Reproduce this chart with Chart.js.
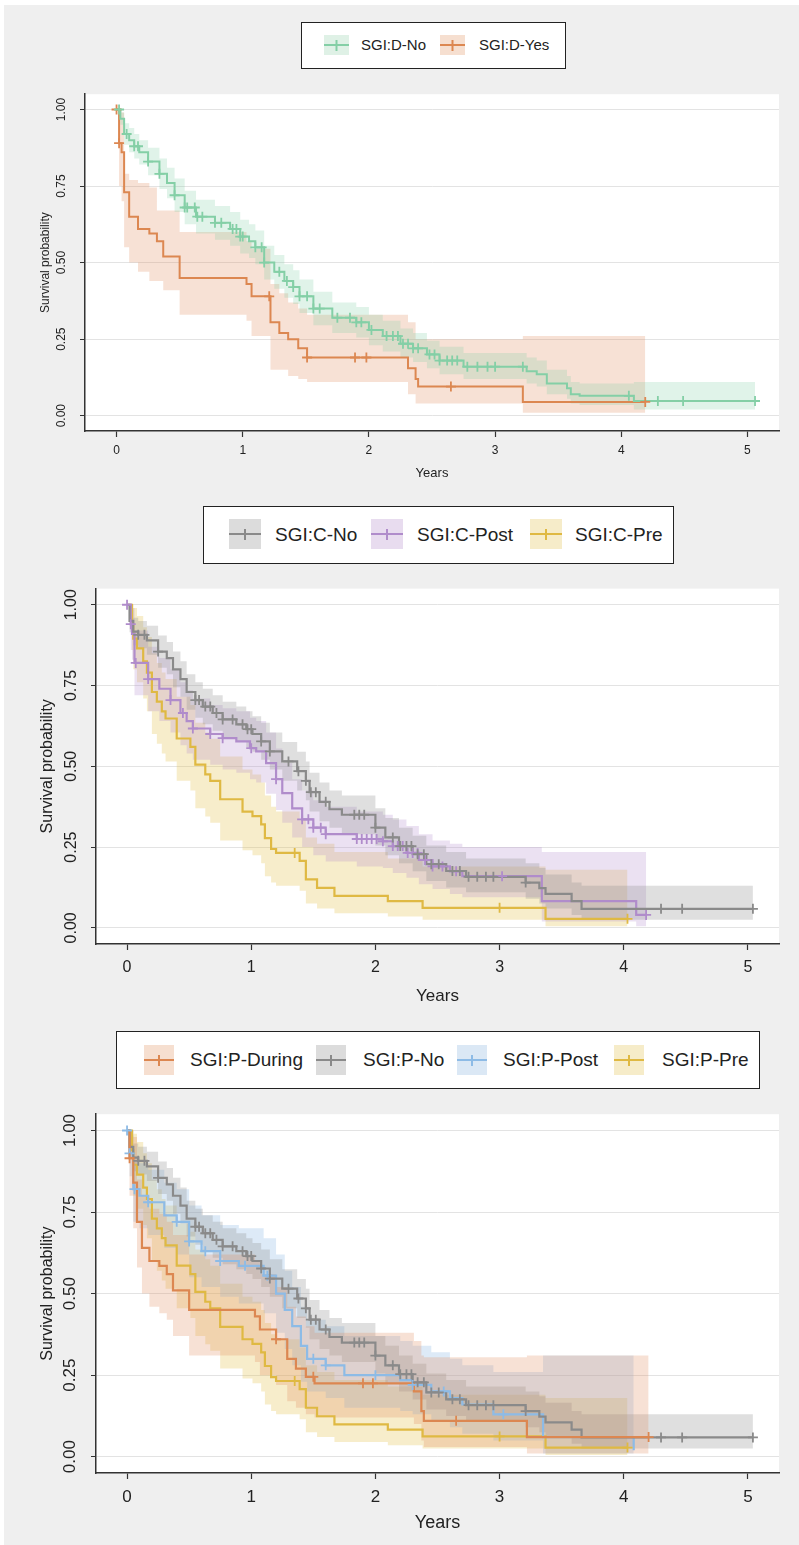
<!DOCTYPE html>
<html>
<head>
<meta charset="utf-8">
<script src="https://cdn.jsdelivr.net/npm/chart.js@4.4.1/dist/chart.umd.min.js"></script>
<style>
  html, body { margin: 0; padding: 0; background: #fff; }
  #page { position: relative; width: 799px; height: 1545px; overflow: hidden; background: #fff; }
  #bg { position: absolute; left: 4px; top: 5px; right: 0; bottom: 0; background: #efefef; }
  canvas { position: absolute; left: 0; }
  .legend { position: absolute; background: #fff; border: 1.5px solid #222; box-sizing: border-box;
            font-family: "Liberation Sans", Arial, sans-serif; color: #222; }
  .legend span { position: absolute; top: 0; white-space: nowrap; }
  .legend svg { position: absolute; }
</style>
</head>
<body>
<div id="page">
  <div id="bg"></div>
  <canvas id="c1" width="799" height="420" style="top:80px"></canvas>
  <canvas id="c2" width="799" height="440" style="top:575px"></canvas>
  <canvas id="c3" width="799" height="445" style="top:1100px"></canvas>
</div>
<script>
const xTicks = [0, 1, 2, 3, 4, 5];
const yTicks = [0, 0.25, 0.5, 0.75, 1];

// ---- panel 1: SGI:D ----
const dNoT  = [0, 0.03, 0.06, 0.10, 0.14, 0.18, 0.25, 0.34, 0.40, 0.46, 0.54, 0.63, 0.78, 0.90, 0.98, 1.05, 1.10, 1.17, 1.25, 1.33, 1.40, 1.45, 1.56, 1.71, 1.90, 2.00, 2.11, 2.25, 2.35, 2.46, 2.56, 2.75, 3.25, 3.33, 3.41, 3.57, 3.60, 3.67, 4.10, 5.06];
const dNoS  = [1.0, 0.97, 0.92, 0.90, 0.88, 0.86, 0.83, 0.79, 0.76, 0.72, 0.68, 0.65, 0.63, 0.61, 0.585, 0.57, 0.55, 0.50, 0.47, 0.44, 0.42, 0.39, 0.35, 0.32, 0.305, 0.28, 0.26, 0.235, 0.22, 0.20, 0.18, 0.16, 0.145, 0.135, 0.105, 0.09, 0.07, 0.065, 0.048, 0.048];
const dNoHi = [1.0, 0.99, 0.955, 0.94, 0.92, 0.90, 0.875, 0.84, 0.81, 0.775, 0.735, 0.705, 0.685, 0.665, 0.64, 0.625, 0.605, 0.555, 0.525, 0.495, 0.475, 0.445, 0.405, 0.37, 0.355, 0.33, 0.31, 0.285, 0.27, 0.245, 0.225, 0.205, 0.19, 0.18, 0.15, 0.13, 0.11, 0.105, 0.11, 0.11];
const dNoLo = [1.0, 0.95, 0.885, 0.86, 0.84, 0.82, 0.785, 0.74, 0.71, 0.665, 0.625, 0.595, 0.575, 0.555, 0.53, 0.515, 0.495, 0.445, 0.415, 0.385, 0.365, 0.335, 0.295, 0.27, 0.255, 0.23, 0.21, 0.19, 0.175, 0.155, 0.135, 0.12, 0.105, 0.095, 0.07, 0.055, 0.04, 0.035, 0.02, 0.02];
const dNoCens = [0.02, 0.08, 0.14, 0.17, 0.25, 0.34, 0.46, 0.54, 0.56, 0.62, 0.64, 0.68, 0.78, 0.83, 0.92, 0.95, 0.98, 1.0, 1.1, 1.15, 1.17, 1.29, 1.35, 1.40, 1.45, 1.51, 1.56, 1.61, 1.75, 1.85, 1.90, 1.94, 2.02, 2.14, 2.19, 2.23, 2.27, 2.31, 2.35, 2.39, 2.48, 2.52, 2.56, 2.62, 2.66, 2.70, 2.78, 2.86, 2.94, 3.0, 3.22, 4.06, 4.29, 4.49, 5.06];

const dYesT  = [0, 0.02, 0.04, 0.06, 0.10, 0.17, 0.26, 0.32, 0.37, 0.50, 1.03, 1.07, 1.22, 1.29, 1.36, 1.44, 1.51, 2.31, 2.37, 2.39, 3.22, 4.19];
const dYesS  = [1.0, 0.89, 0.86, 0.73, 0.65, 0.61, 0.595, 0.57, 0.52, 0.45, 0.43, 0.39, 0.305, 0.27, 0.25, 0.22, 0.19, 0.155, 0.12, 0.095, 0.045, 0.045];
const dYesHi = [1.0, 1.0, 0.99, 0.79, 0.77, 0.76, 0.745, 0.67, 0.67, 0.60, 0.57, 0.545, 0.43, 0.40, 0.37, 0.35, 0.33, 0.305, 0.25, 0.25, 0.26, 0.26];
const dYesLo = [1.0, 0.75, 0.70, 0.55, 0.50, 0.47, 0.44, 0.44, 0.41, 0.33, 0.31, 0.26, 0.15, 0.15, 0.13, 0.12, 0.11, 0.07, 0.04, 0.04, 0.01, 0.01];
const dYesCens = [0, 0.02, 1.21, 1.51, 1.89, 1.98, 2.65, 4.19];

// ---- panel 2: SGI:C ----
const cNoT  = [0, 0.02, 0.05, 0.09, 0.16, 0.25, 0.32, 0.37, 0.43, 0.48, 0.55, 0.61, 0.69, 0.77, 0.88, 0.96, 1.01, 1.08, 1.15, 1.25, 1.37, 1.44, 1.47, 1.55, 1.63, 1.73, 2.0, 2.08, 2.19, 2.3, 2.41, 2.57, 2.73, 3.21, 3.32, 3.37, 3.58, 3.66, 5.04];
const cNoS  = [1.0, 0.95, 0.917, 0.907, 0.89, 0.855, 0.835, 0.80, 0.77, 0.73, 0.705, 0.685, 0.665, 0.645, 0.63, 0.615, 0.60, 0.577, 0.546, 0.515, 0.485, 0.455, 0.42, 0.39, 0.367, 0.35, 0.31, 0.28, 0.253, 0.228, 0.197, 0.176, 0.158, 0.14, 0.123, 0.105, 0.083, 0.059, 0.059];
const cNoHi = [1.0, 0.985, 0.96, 0.95, 0.935, 0.905, 0.885, 0.855, 0.825, 0.785, 0.76, 0.74, 0.72, 0.70, 0.685, 0.67, 0.655, 0.635, 0.605, 0.575, 0.545, 0.515, 0.48, 0.45, 0.425, 0.41, 0.37, 0.34, 0.31, 0.285, 0.255, 0.235, 0.215, 0.20, 0.185, 0.165, 0.14, 0.13, 0.13];
const cNoLo = [1.0, 0.915, 0.875, 0.865, 0.845, 0.805, 0.785, 0.745, 0.715, 0.675, 0.65, 0.63, 0.61, 0.59, 0.575, 0.56, 0.545, 0.52, 0.49, 0.455, 0.425, 0.395, 0.36, 0.33, 0.31, 0.29, 0.255, 0.225, 0.2, 0.175, 0.145, 0.125, 0.11, 0.09, 0.075, 0.06, 0.04, 0.025, 0.025];
const cNoCens = [0.09, 0.14, 0.25, 0.55, 0.58, 0.63, 0.67, 0.72, 0.77, 0.85, 0.93, 0.97, 1.0, 1.08, 1.15, 1.3, 1.38, 1.44, 1.48, 1.52, 1.6, 1.83, 1.87, 1.91, 2.0, 2.14, 2.2, 2.25, 2.29, 2.34, 2.39, 2.45, 2.51, 2.62, 2.68, 2.75, 2.82, 2.89, 2.95, 3.21, 4.3, 4.47, 5.04];

const cPostT  = [0, 0.03, 0.04, 0.06, 0.17, 0.26, 0.35, 0.43, 0.48, 0.53, 0.67, 0.77, 0.88, 0.99, 1.04, 1.12, 1.2, 1.25, 1.33, 1.41, 1.5, 1.6, 1.85, 2.06, 2.14, 2.25, 2.35, 2.46, 2.6, 2.7, 3.34, 4.1, 4.18];
const cPostS  = [1.0, 0.94, 0.91, 0.82, 0.77, 0.74, 0.705, 0.665, 0.64, 0.617, 0.60, 0.587, 0.577, 0.556, 0.546, 0.51, 0.46, 0.417, 0.37, 0.336, 0.31, 0.29, 0.275, 0.268, 0.253, 0.232, 0.21, 0.19, 0.175, 0.16, 0.083, 0.04, 0.04];
const cPostHi = [1.0, 1.0, 0.99, 0.92, 0.87, 0.835, 0.8, 0.76, 0.735, 0.71, 0.69, 0.68, 0.67, 0.65, 0.64, 0.605, 0.555, 0.51, 0.46, 0.425, 0.395, 0.375, 0.36, 0.35, 0.335, 0.315, 0.29, 0.27, 0.26, 0.25, 0.235, 0.235, 0.235];
const cPostLo = [1.0, 0.86, 0.83, 0.72, 0.67, 0.64, 0.605, 0.565, 0.54, 0.52, 0.505, 0.49, 0.48, 0.46, 0.45, 0.415, 0.365, 0.325, 0.28, 0.25, 0.225, 0.205, 0.19, 0.185, 0.17, 0.155, 0.135, 0.12, 0.105, 0.095, 0.02, 0.005, 0.005];
const cPostCens = [0, 0.03, 0.07, 0.17, 0.35, 0.45, 0.53, 0.67, 0.77, 1.0, 1.2, 1.41, 1.46, 1.5, 1.56, 1.6, 1.85, 1.89, 1.93, 1.97, 2.01, 2.06, 2.14, 2.18, 2.22, 2.26, 2.3, 2.34, 2.4, 2.46, 2.54, 2.65, 3.02, 4.18];

const cPreT  = [0, 0.04, 0.05, 0.08, 0.13, 0.16, 0.2, 0.24, 0.28, 0.31, 0.4, 0.51, 0.55, 0.63, 0.67, 0.75, 0.93, 1.01, 1.08, 1.11, 1.16, 1.2, 1.39, 1.44, 1.53, 1.67, 2.1, 2.38, 3.37, 4.03];
const cPreS  = [1.0, 0.94, 0.895, 0.865, 0.825, 0.79, 0.73, 0.70, 0.67, 0.648, 0.586, 0.56, 0.505, 0.475, 0.455, 0.398, 0.36, 0.346, 0.32, 0.278, 0.244, 0.232, 0.207, 0.15, 0.124, 0.099, 0.083, 0.062, 0.028, 0.028];
const cPreHi = [1.0, 1.0, 0.99, 0.965, 0.93, 0.9, 0.85, 0.82, 0.79, 0.77, 0.715, 0.69, 0.635, 0.605, 0.585, 0.53, 0.49, 0.475, 0.45, 0.41, 0.375, 0.36, 0.335, 0.28, 0.26, 0.235, 0.215, 0.19, 0.18, 0.18];
const cPreLo = [1.0, 0.86, 0.8, 0.76, 0.71, 0.67, 0.6, 0.57, 0.54, 0.515, 0.455, 0.425, 0.37, 0.345, 0.325, 0.27, 0.24, 0.225, 0.2, 0.16, 0.14, 0.13, 0.115, 0.075, 0.06, 0.045, 0.035, 0.025, 0.005, 0.005];
const cPreCens = [1.35, 3.0, 4.03];

// ---- panel 3: SGI:P ----
const pDurT  = [0, 0.02, 0.05, 0.08, 0.12, 0.18, 0.26, 0.32, 0.37, 0.5, 1.03, 1.07, 1.2, 1.29, 1.36, 1.44, 1.51, 2.31, 2.37, 2.39, 3.22, 4.2];
const pDurS  = [1.0, 0.915, 0.84, 0.72, 0.64, 0.6, 0.585, 0.56, 0.51, 0.45, 0.43, 0.39, 0.36, 0.30, 0.27, 0.245, 0.225, 0.2, 0.14, 0.11, 0.06, 0.06];
const pDurHi = [1.0, 1.0, 0.98, 0.85, 0.8, 0.76, 0.745, 0.72, 0.68, 0.62, 0.6, 0.56, 0.52, 0.46, 0.43, 0.4, 0.38, 0.355, 0.31, 0.305, 0.31, 0.31];
const pDurLo = [1.0, 0.8, 0.7, 0.58, 0.5, 0.46, 0.44, 0.42, 0.37, 0.31, 0.29, 0.25, 0.22, 0.17, 0.15, 0.13, 0.12, 0.1, 0.05, 0.03, 0.01, 0.01];
const pDurCens = [0.02, 1.2, 1.5, 1.9, 1.98, 2.65, 4.2];

const pNoT  = [0, 0.02, 0.05, 0.09, 0.16, 0.25, 0.32, 0.37, 0.43, 0.48, 0.55, 0.61, 0.69, 0.77, 0.88, 0.96, 1.01, 1.08, 1.15, 1.25, 1.37, 1.44, 1.47, 1.55, 1.63, 1.73, 2.0, 2.08, 2.19, 2.3, 2.41, 2.57, 2.73, 3.21, 3.32, 3.37, 3.58, 3.66, 5.04];
const pNoS  = [1.0, 0.95, 0.917, 0.907, 0.89, 0.855, 0.835, 0.80, 0.77, 0.73, 0.705, 0.685, 0.665, 0.645, 0.63, 0.615, 0.60, 0.577, 0.546, 0.515, 0.485, 0.455, 0.42, 0.39, 0.367, 0.35, 0.31, 0.28, 0.253, 0.228, 0.197, 0.176, 0.158, 0.14, 0.123, 0.105, 0.083, 0.059, 0.059];
const pNoHi = [1.0, 0.985, 0.96, 0.95, 0.935, 0.905, 0.885, 0.855, 0.825, 0.785, 0.76, 0.74, 0.72, 0.70, 0.685, 0.67, 0.655, 0.635, 0.605, 0.575, 0.545, 0.515, 0.48, 0.45, 0.425, 0.41, 0.37, 0.34, 0.31, 0.285, 0.255, 0.235, 0.215, 0.20, 0.185, 0.165, 0.14, 0.13, 0.13];
const pNoLo = [1.0, 0.915, 0.875, 0.865, 0.845, 0.805, 0.785, 0.745, 0.715, 0.675, 0.65, 0.63, 0.61, 0.59, 0.575, 0.56, 0.545, 0.52, 0.49, 0.455, 0.425, 0.395, 0.36, 0.33, 0.31, 0.29, 0.255, 0.225, 0.2, 0.175, 0.145, 0.125, 0.11, 0.09, 0.075, 0.06, 0.04, 0.025, 0.025];
const pNoCens = [0.09, 0.14, 0.25, 0.55, 0.58, 0.63, 0.67, 0.72, 0.77, 0.85, 0.93, 0.97, 1.0, 1.08, 1.15, 1.3, 1.38, 1.44, 1.48, 1.52, 1.6, 1.83, 1.87, 1.91, 2.0, 2.14, 2.2, 2.25, 2.29, 2.34, 2.39, 2.45, 2.51, 2.62, 2.68, 2.75, 2.82, 2.89, 2.95, 3.21, 4.3, 4.47, 5.04];

const pPostT  = [0, 0.02, 0.05, 0.1, 0.17, 0.3, 0.4, 0.5, 0.6, 0.75, 0.9, 1.1, 1.2, 1.27, 1.33, 1.4, 1.45, 1.6, 1.75, 2.2, 2.3, 2.45, 2.6, 2.7, 2.95, 3.35, 4.08];
const pPostS  = [1.0, 0.93, 0.82, 0.8, 0.78, 0.74, 0.72, 0.66, 0.63, 0.6, 0.585, 0.555, 0.5, 0.45, 0.4, 0.34, 0.3, 0.28, 0.25, 0.235, 0.22, 0.2, 0.18, 0.16, 0.13, 0.06, 0.02];
const pPostHi = [1.0, 1.0, 0.92, 0.9, 0.88, 0.84, 0.82, 0.77, 0.74, 0.71, 0.7, 0.67, 0.62, 0.57, 0.52, 0.46, 0.42, 0.4, 0.37, 0.355, 0.34, 0.32, 0.3, 0.28, 0.26, 0.31, 0.31];
const pPostLo = [1.0, 0.86, 0.72, 0.7, 0.68, 0.64, 0.62, 0.55, 0.52, 0.49, 0.47, 0.44, 0.38, 0.33, 0.28, 0.23, 0.2, 0.18, 0.15, 0.14, 0.13, 0.11, 0.09, 0.07, 0.05, 0.01, 0.0];
const pPostCens = [0, 0.02, 0.06, 0.17, 0.4, 0.5, 0.63, 0.75, 0.95, 1.13, 1.5, 1.6, 2.0, 2.3, 2.55, 3.03];

const pPreT  = [0, 0.04, 0.05, 0.08, 0.13, 0.16, 0.2, 0.24, 0.28, 0.31, 0.4, 0.51, 0.55, 0.63, 0.67, 0.75, 0.93, 1.01, 1.08, 1.11, 1.16, 1.2, 1.39, 1.44, 1.53, 1.67, 2.1, 2.38, 3.37, 4.03];
const pPreS  = [1.0, 0.94, 0.895, 0.865, 0.825, 0.79, 0.73, 0.70, 0.67, 0.648, 0.586, 0.56, 0.505, 0.475, 0.455, 0.398, 0.36, 0.346, 0.32, 0.278, 0.244, 0.232, 0.207, 0.15, 0.124, 0.099, 0.083, 0.062, 0.028, 0.028];
const pPreHi = [1.0, 1.0, 0.99, 0.965, 0.93, 0.9, 0.85, 0.82, 0.79, 0.77, 0.715, 0.69, 0.635, 0.605, 0.585, 0.53, 0.49, 0.475, 0.45, 0.41, 0.375, 0.36, 0.335, 0.28, 0.26, 0.235, 0.215, 0.19, 0.18, 0.18];
const pPreLo = [1.0, 0.86, 0.8, 0.76, 0.71, 0.67, 0.6, 0.57, 0.54, 0.515, 0.455, 0.425, 0.37, 0.345, 0.325, 0.27, 0.24, 0.225, 0.2, 0.16, 0.14, 0.13, 0.115, 0.075, 0.06, 0.045, 0.035, 0.025, 0.005, 0.005];
const pPreCens = [1.35, 3.0, 4.03];

const FONT = '"Liberation Sans", Arial, sans-serif';
Chart.defaults.font.family = FONT;

const COLORS = {
  green:  { line: '#84cfa6', band: 'rgba(132,207,166,0.25)', swatch: '#dff1e6' },
  orange: { line: '#dc8751', band: 'rgba(223,141,91,0.26)',  swatch: '#f6dfd0' },
  gray:   { line: '#8a8a8a', band: 'rgba(140,140,140,0.28)', swatch: '#dcdcdc' },
  purple: { line: '#b08ccb', band: 'rgba(176,140,203,0.26)', swatch: '#e8dcef' },
  gold:   { line: '#dfb943', band: 'rgba(228,190,70,0.28)',  swatch: '#f6ecc9' },
  blue:   { line: '#8dbbe6', band: 'rgba(141,187,230,0.30)', swatch: '#dbe8f5' }
};

// white plotting region like the original
const plotBg = {
  id: 'plotBg',
  beforeDraw(chart) {
    const a = chart.chartArea, ctx = chart.ctx;
    ctx.save();
    ctx.fillStyle = '#fff';
    ctx.fillRect(a.left, a.top, a.right - a.left, a.bottom - a.top);
    ctx.restore();
  }
};

function stepValue(t, s, x) {
  let v = s[0];
  for (let i = 0; i < t.length; i++) if (t[i] <= x) v = s[i];
  return v;
}
function pts(t, v) { return t.map((x, i) => ({ x: x, y: v[i] })); }

function km(name, col, t, s, lo, hi, cens, lw) {
  return [
    { label: name + ' upper', data: pts(t, hi), stepped: true, borderWidth: 0, pointRadius: 0, fill: false, order: 3 },
    { label: name + ' lower', data: pts(t, lo), stepped: true, borderWidth: 0, pointRadius: 0, fill: '-1', backgroundColor: col.band, order: 3 },
    { label: name, data: pts(t, s), stepped: true, borderColor: col.line, borderWidth: lw, pointRadius: 0, fill: false, order: 1 },
    { label: name + ' censored', data: cens.map(c => ({ x: c, y: stepValue(t, s, c) })), showLine: false,
      pointStyle: 'cross', pointRadius: 5, borderColor: col.line, borderWidth: 1.8, order: 0 }
  ];
}

function makeChart(id, datasets, g) {
  new Chart(document.getElementById(id), {
    type: 'line',
    data: { datasets: datasets },
    plugins: [plotBg],
    options: {
      responsive: false,
      animation: false,
      events: [],
      layout: { padding: { top: g.padTop, right: 20, left: 0, bottom: 0 } },
      plugins: { legend: { display: false }, tooltip: { enabled: false } },
      scales: {
        x: {
          type: 'linear', min: -0.25, max: 5.25,
          afterBuildTicks: s => { s.ticks = xTicks.map(v => ({ value: v })); },
          afterFit: s => { s.height = g.xH; },
          grid: { drawOnChartArea: false, drawTicks: true, tickLength: 6, tickColor: '#333', tickWidth: 1.2 },
          border: { display: true, color: '#333', width: 1.5 },
          ticks: { color: '#222', font: { size: g.tick }, padding: g.xTickPad, maxRotation: 0, callback: v => String(v) },
          title: { display: true, text: 'Years', color: '#222', font: { size: g.title }, padding: { top: 0, bottom: g.xTitlePad } }
        },
        y: {
          type: 'linear', min: -0.05, max: 1.05,
          afterBuildTicks: s => { s.ticks = yTicks.map(v => ({ value: v })); },
          afterFit: s => { s.width = g.yW; },
          grid: { color: '#e3e3e3', lineWidth: 1, drawTicks: true, tickLength: 5, tickColor: '#333' },
          border: { display: true, color: '#333', width: 1.5 },
          ticks: { color: '#222', font: { size: g.tick }, padding: g.yTickPad, minRotation: 90, maxRotation: 90,
                   crossAlign: 'center', callback: v => Number(v).toFixed(2) },
          title: { display: true, text: 'Survival probability', color: '#222', font: { size: g.ytitle },
                   padding: { top: g.yTitlePad, bottom: 0 } }
        }
      }
    }
  });
}

function makeLegend(box, size, items) {
  const el = document.createElement('div');
  el.className = 'legend';
  el.style.left = box[0] + 'px'; el.style.top = box[1] + 'px';
  el.style.width = box[2] + 'px'; el.style.height = box[3] + 'px';
  el.style.fontSize = size + 'px';
  let html = '';
  items.forEach(it => {
    const w = it.sw[2], h = it.sw[3], cx = w / 2, cy = h / 2;
    html += '<svg width="' + w + '" height="' + h + '" style="left:' + it.sw[0] + 'px;top:' + it.sw[1] + 'px">' +
      '<rect width="' + w + '" height="' + h + '" fill="' + it.col.swatch + '"/>' +
      '<line x1="0" y1="' + cy + '" x2="' + w + '" y2="' + cy + '" stroke="' + it.col.line + '" stroke-width="2"/>' +
      '<line x1="' + cx + '" y1="' + (cy - 5) + '" x2="' + cx + '" y2="' + (cy + 6) + '" stroke="' + it.col.line + '" stroke-width="2"/></svg>';
    html += '<span style="left:' + it.tx + 'px;line-height:' + (box[3] - 3) + 'px">' + it.label + '</span>';
  });
  el.innerHTML = html;
  document.getElementById('page').appendChild(el);
}

makeChart('c1', [].concat(
  km('SGI:D-No', COLORS.green, dNoT, dNoS, dNoLo, dNoHi, dNoCens, 2),
  km('SGI:D-Yes', COLORS.orange, dYesT, dYesS, dYesLo, dYesHi, dYesCens, 2)
), { padTop: 9, xH: 69, yW: 85, tick: 12, title: 13, ytitle: 12, xTickPad: 6, xTitlePad: 19, yTickPad: 7, yTitlePad: 38 });

makeChart('c2', [].concat(
  km('SGI:C-No', COLORS.gray, cNoT, cNoS, cNoLo, cNoHi, cNoCens, 2.2),
  km('SGI:C-Post', COLORS.purple, cPostT, cPostS, cPostLo, cPostHi, cPostCens, 2.2),
  km('SGI:C-Pre', COLORS.gold, cPreT, cPreS, cPreLo, cPreHi, cPreCens, 2.2)
), { padTop: 11, xH: 71, yW: 96, tick: 16, title: 17, ytitle: 16, xTickPad: 8, xTitlePad: 8, yTickPad: 4, yTitlePad: 38 });

makeChart('c3', [].concat(
  km('SGI:P-During', COLORS.orange, pDurT, pDurS, pDurLo, pDurHi, pDurCens, 2.2),
  km('SGI:P-No', COLORS.gray, pNoT, pNoS, pNoLo, pNoHi, pNoCens, 2.2),
  km('SGI:P-Post', COLORS.blue, pPostT, pPostS, pPostLo, pPostHi, pPostCens, 2.2),
  km('SGI:P-Pre', COLORS.gold, pPreT, pPreS, pPreLo, pPreHi, pPreCens, 2.2)
), { padTop: 12, xH: 72, yW: 96, tick: 17, title: 18, ytitle: 16, xTickPad: 8, xTitlePad: 11, yTickPad: 4, yTitlePad: 38 });

makeLegend([301, 22, 265, 47], 15, [
  { col: COLORS.green, label: 'SGI:D-No', sw: [22, 12, 25, 20], tx: 59 },
  { col: COLORS.orange, label: 'SGI:D-Yes', sw: [138, 12, 25, 20], tx: 177 }
]);
makeLegend([203, 506, 471, 58], 19, [
  { col: COLORS.gray, label: 'SGI:C-No', sw: [25, 12, 32, 30], tx: 71 },
  { col: COLORS.purple, label: 'SGI:C-Post', sw: [167, 12, 32, 30], tx: 213 },
  { col: COLORS.gold, label: 'SGI:C-Pre', sw: [326, 12, 32, 30], tx: 371 }
]);
makeLegend([116, 1031, 644, 58], 19, [
  { col: COLORS.orange, label: 'SGI:P-During', sw: [27, 13, 30, 30], tx: 73 },
  { col: COLORS.gray, label: 'SGI:P-No', sw: [199, 13, 30, 30], tx: 246 },
  { col: COLORS.blue, label: 'SGI:P-Post', sw: [340, 13, 30, 30], tx: 386 },
  { col: COLORS.gold, label: 'SGI:P-Pre', sw: [497, 13, 30, 30], tx: 545 }
]);
</script>
</body>
</html>
